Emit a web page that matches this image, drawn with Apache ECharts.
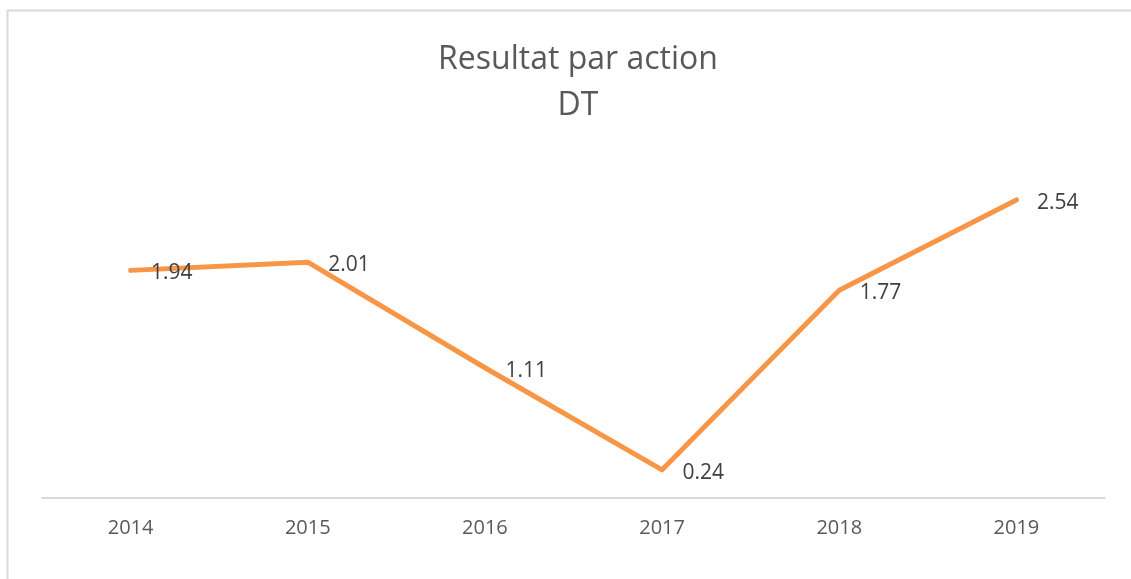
<!DOCTYPE html>
<html>
<head>
<meta charset="utf-8">
<script src="https://cdn.jsdelivr.net/npm/echarts@6/dist/echarts.min.js"></script>
<style>
  html, body { margin: 0; padding: 0; background: #fff; }
  #chart { width: 1131px; height: 579px; }
</style>
</head>
<body>
<div id="chart"></div>
<script>
const years = ["2014", "2015", "2016", "2017", "2018", "2019"];
const resultat = [1.94, 2.01, 1.11, 0.24, 1.77, 2.54];

const chart = echarts.init(document.getElementById("chart"));

let options = {
  animation: false,
  title: {
    text: "Resultat par action\nDT",
    left: 573,
    textAlign: "center",
    top: 32,
    textStyle: {
      color: "#595959",
      fontFamily: "Open Sans",
      fontWeight: "normal",
      fontSize: 32,
      lineHeight: 46,
    },
  },
  // chart frame (top and left edges visible)
  graphic: [
    {
      type: "rect",
      shape: { x: 7.5, y: 10.5, width: 1300, height: 800 },
      style: { fill: "none", stroke: "#d9d9d9", lineWidth: 2 },
      silent: true,
    },
  ],
  grid: {
    left: 42,
    right: 26,
    top: 146,
    bottom: 81,
  },
  xAxis: {
    type: "category",
    data: years,
    boundaryGap: true,
    axisLine: { lineStyle: { color: "#d9d9d9", width: 2 } },
    axisTick: { show: false },
    axisLabel: {
      color: "#595959",
      fontFamily: "Open Sans",
      fontSize: 20,
      margin: 20,
    },
  },
  yAxis: {
    type: "value",
    min: 0,
    max: 3,
    show: false,
    splitLine: { show: false },
  },
  series: [
    {
      type: "line",
      data: resultat,
      symbol: "circle",
      symbolSize: 1,
      showSymbol: true,
      lineStyle: { color: "#f79646", width: 5, cap: "round", join: "round" },
      itemStyle: { color: "#f79646" },
      label: {
        show: true,
        position: "right",
        distance: 20,
        offset: [0, 3],
        color: "#404040",
        fontFamily: "Open Sans",
        fontSize: 21,
        formatter: (p) => p.value.toFixed(2),
      },
    },
  ],
};
chart.setOption(options);
</script>
</body>
</html>
